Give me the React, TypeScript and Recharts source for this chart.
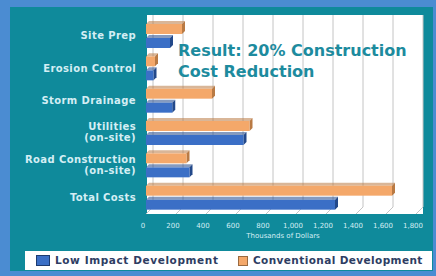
import React from 'react';
import { BarChart, Bar, XAxis, YAxis, CartesianGrid } from 'recharts';

const categories = ['Site Prep', 'Erosion Control', 'Storm Drainage', 'Utilities\n(on-site)', 'Road Construction\n(on-site)', 'Total Costs'];
const lowImpact = [160, 50, 175, 650, 290, 1260];
const conventional = [240, 60, 440, 690, 270, 1640];
const xTicks = [0, 200, 400, 600, 800, 1000, 1200, 1400, 1600, 1800];

const data = categories.map((name, i) => ({
  name,
  conventional: conventional[i],
  lowImpact: lowImpact[i],
}));

const OUTER = '#4b8cd2';
const TEAL = '#0f8a9b';
const ORANGE = '#f4a86a';
const ORANGE_DARK = '#b97a44';
const BLUE = '#3b6fc6';
const BLUE_DARK = '#23498a';
const LABEL = '#d4eef4';
const DEPTH = 3;

const make3dBar = (front: string, side: string) => (props: any) => {
  const { x, y, width, height } = props;
  if (!width || width <= 0) return <g />;
  const d = DEPTH;
  return (
    <g>
      <polygon
        points={`${x},${y} ${x + d},${y - d} ${x + width + d},${y - d} ${x + width},${y}`}
        fill={side}
        opacity={0.55}
      />
      <polygon
        points={`${x + width},${y} ${x + width + d},${y - d} ${x + width + d},${y + height - d} ${x + width},${y + height}`}
        fill={side}
      />
      <rect x={x} y={y} width={width} height={height} fill={front} />
    </g>
  );
};

const YTick = ({ x, y, payload }: any) => {
  const lines = String(payload.value).split('\n');
  const offsets = lines.length === 1 ? [3] : [-3, 8];
  return (
    <g>
      {lines.map((l, i) => (
        <text
          key={i}
          x={x - 2}
          y={y + offsets[i]}
          textAnchor="end"
          fill={LABEL}
          fontSize={10}
          fontWeight="bold"
          letterSpacing={0.4}
          fontFamily="DejaVu Sans, sans-serif"
        >
          {l}
        </text>
      ))}
    </g>
  );
};

const XTick = ({ x, y, payload }: any) => (
  <text
    x={x - 3}
    y={y + 6}
    textAnchor="middle"
    fill={LABEL}
    fontSize={7}
    fontFamily="DejaVu Sans, sans-serif"
  >
    {Number(payload.value).toLocaleString('en-US')}
  </text>
);

const GridLine = (props: any) => {
  const { x1, y1, y2 } = props;
  return (
    <polyline
      points={`${x1 + 7},${y1 - 5} ${x1 + 7},${y2 - 7} ${x1},${y2}`}
      fill="none"
      stroke="#c4c4c4"
      strokeWidth={1}
    />
  );
};

const legendText: React.CSSProperties = {
  position: 'absolute',
  top: 3,
  fontFamily: 'DejaVu Sans, sans-serif',
  fontWeight: 'bold',
  fontSize: 10.5,
  lineHeight: '13px',
  letterSpacing: 0.6,
  color: '#2e3d63',
  whiteSpace: 'nowrap',
};

const LegendBox = () => (
  <div
    style={{
      position: 'absolute',
      left: 25,
      top: 251,
      width: 407,
      height: 19,
      background: '#ffffff',
    }}
  >
    <span style={{ position: 'absolute', left: 11, top: 4, width: 14, height: 11, boxSizing: 'border-box', background: BLUE, border: '1px solid #1d3b70' }} />
    <span style={{ ...legendText, left: 30 }}>Low Impact Development</span>
    <span style={{ position: 'absolute', left: 213, top: 5, width: 10, height: 10, boxSizing: 'border-box', background: ORANGE, border: '1px solid #9a6a40' }} />
    <span style={{ ...legendText, left: 228, letterSpacing: 0.4 }}>Conventional Development</span>
  </div>
);

export default function App() {
  return (
    <div style={{ position: 'absolute', left: 0, top: 0, width: 436, height: 276, background: OUTER, overflow: 'hidden' }}>
      <div style={{ position: 'absolute', left: 10, top: 7, width: 423, height: 264, background: TEAL }} />
      <div style={{ position: 'absolute', left: 147, top: 15, width: 276, height: 199, background: '#ffffff' }} />
      <BarChart
        width={436}
        height={276}
        data={data}
        layout="vertical"
        margin={{ top: 20, right: 20, bottom: 32, left: 0 }}
        barSize={10}
        barGap={4}
        style={{ position: 'absolute', left: 0, top: 0 }}
      >
        <CartesianGrid horizontal={false} vertical={<GridLine />} />
        <XAxis
          type="number"
          domain={[0, 1800]}
          ticks={xTicks}
          tick={<XTick />}
          tickLine={false}
          axisLine={false}
          interval={0}
          height={30}
        />
        <YAxis
          type="category"
          dataKey="name"
          width={146}
          tick={<YTick />}
          tickLine={false}
          axisLine={false}
          interval={0}
        />
        <Bar dataKey="conventional" isAnimationActive={false} shape={make3dBar(ORANGE, ORANGE_DARK)} />
        <Bar dataKey="lowImpact" isAnimationActive={false} shape={make3dBar(BLUE, BLUE_DARK)} />
      </BarChart>
      <div
        style={{
          position: 'absolute',
          left: 178,
          top: 40,
          fontFamily: 'DejaVu Sans, sans-serif',
          fontSize: 16,
          fontWeight: 'bold',
          lineHeight: '21px',
          color: '#1d8b9e',
          whiteSpace: 'nowrap',
        }}
      >
        Result: 20% Construction
        <br />
        Cost Reduction
      </div>
      <div
        style={{
          position: 'absolute',
          left: 231,
          top: 232,
          width: 104,
          textAlign: 'center',
          fontFamily: 'DejaVu Sans, sans-serif',
          fontSize: 7,
          color: LABEL,
          whiteSpace: 'nowrap',
        }}
      >
        Thousands of Dollars
      </div>
      <LegendBox />
    </div>
  );
}
